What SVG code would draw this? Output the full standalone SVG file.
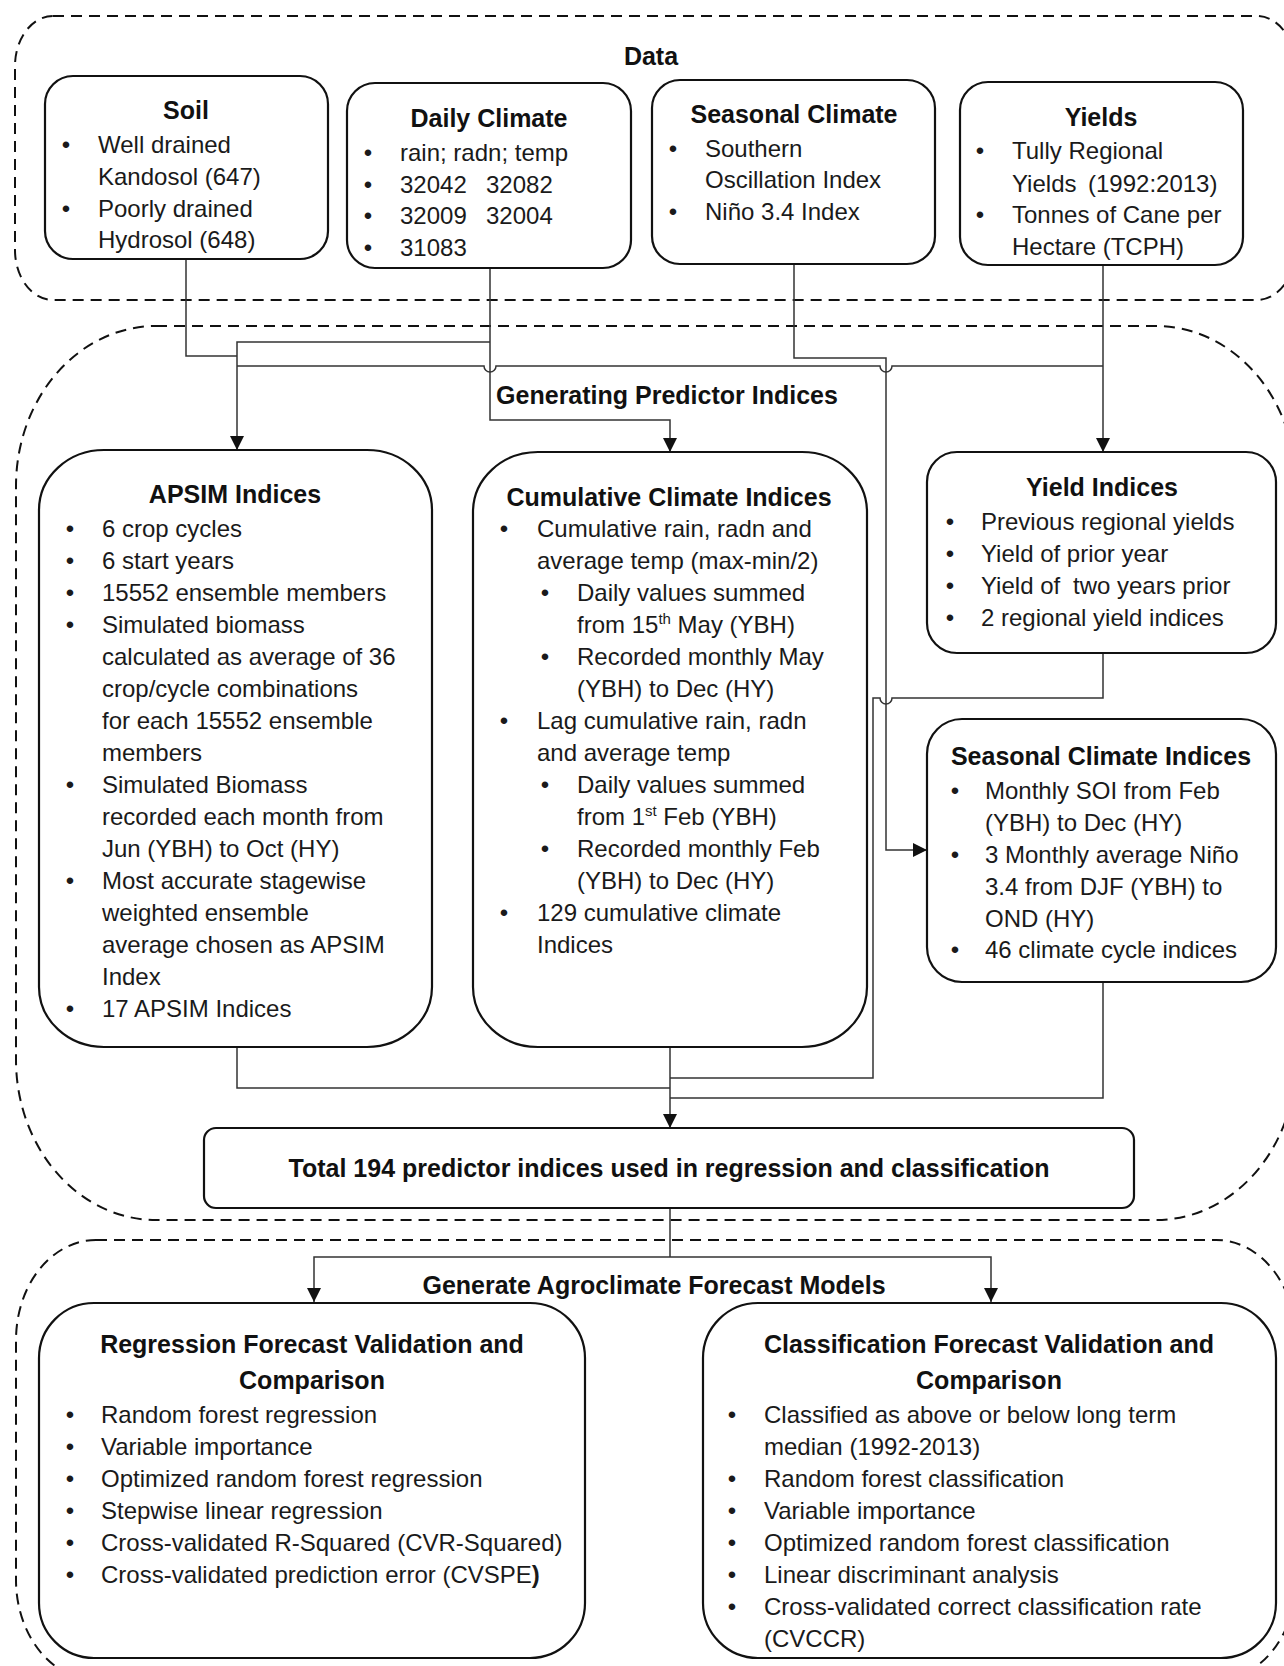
<svg xmlns="http://www.w3.org/2000/svg" width="1284" height="1666" viewBox="0 0 1284 1666">
<defs>
<style>
.cont{fill:none;stroke:#111;stroke-width:2;stroke-dasharray:11 7}
.box{fill:#fff;stroke:#111;stroke-width:2.2}
.t{font-family:"Liberation Sans",Arial,sans-serif;font-size:24px;fill:#1a1a1a}
.h{font-family:"Liberation Sans",Arial,sans-serif;font-size:25px;font-weight:bold;fill:#111;text-anchor:middle}
.b{font-family:"Liberation Sans",Arial,sans-serif;font-size:24px;fill:#1a1a1a;text-anchor:middle}
.c{fill:none;stroke:#333;stroke-width:1.5}
</style>
<marker id="arr" markerUnits="userSpaceOnUse" markerWidth="14" markerHeight="14" refX="14" refY="7" orient="auto">
<path d="M0,0 L14,7 L0,14 z" fill="#111"/>
</marker>
</defs>
<rect width="1284" height="1666" fill="#fff"/>

<g id="containers">
<rect class="cont" x="15" y="16" width="1280" height="284" rx="38" ry="50"/>
<rect class="cont" x="16" y="326" width="1280" height="894" rx="140" ry="160"/>
<rect class="cont" x="16" y="1240" width="1280" height="440" rx="80" ry="100"/>
<text class="h" x="651" y="65">Data</text>
<text class="h" x="667" y="404">Generating Predictor Indices</text>
<text class="h" x="654" y="1294">Generate Agroclimate Forecast Models</text>
</g>

<g id="connectors">
<path class="c" d="M186,259 V356 H237"/>
<path class="c" d="M490,342 H237 V450" marker-end="url(#arr)"/>
<path class="c" d="M490,268 V420 H670 V452" marker-end="url(#arr)"/>
<path class="c" d="M1103,265 V452" marker-end="url(#arr)"/>
<path class="c" d="M237,366 H484 A6,6 0 0 0 496,366 H880 A6,6 0 0 0 892,366 H1103"/>
<path class="c" d="M794,264 V358 H886 V850 H927" marker-end="url(#arr)"/>
<path class="c" d="M237,1047 V1088 H670"/>
<path class="c" d="M670,1047 V1128" marker-end="url(#arr)"/>
<path class="c" d="M1103,653 V698 H892 A6,6 0 0 1 880,698 H873 V1078 H670"/>
<path class="c" d="M1103,982 V1098 H670"/>
<path class="c" d="M670,1208 V1257"/>
<path class="c" d="M670,1257 H314 V1302" marker-end="url(#arr)"/>
<path class="c" d="M670,1257 H991 V1302" marker-end="url(#arr)"/>
</g>

<g id="soil">
<rect class="box" x="45" y="76" width="283" height="183" rx="28"/>
<text class="h" x="186" y="119">Soil</text>
<text class="b" x="66" y="153">•</text>
<text class="t" x="98" y="153">Well drained</text>
<text class="t" x="98" y="185">Kandosol (647)</text>
<text class="b" x="66" y="217">•</text>
<text class="t" x="98" y="217">Poorly drained</text>
<text class="t" x="98" y="248">Hydrosol (648)</text>
</g>

<g id="daily-climate">
<rect class="box" x="347" y="83" width="284" height="185" rx="28"/>
<text class="h" x="489" y="127">Daily Climate</text>
<text class="b" x="368" y="161">•</text>
<text class="t" x="400" y="161">rain; radn; temp</text>
<text class="b" x="368" y="193">•</text>
<text class="t" x="400" y="193">32042<tspan x="486">32082</tspan></text>
<text class="b" x="368" y="224">•</text>
<text class="t" x="400" y="224">32009<tspan x="486">32004</tspan></text>
<text class="b" x="368" y="256">•</text>
<text class="t" x="400" y="256">31083</text>
</g>

<g id="seasonal-climate">
<rect class="box" x="652" y="80" width="283" height="184" rx="28"/>
<text class="h" x="794" y="123">Seasonal Climate</text>
<text class="b" x="673" y="157">•</text>
<text class="t" x="705" y="157">Southern</text>
<text class="t" x="705" y="188">Oscillation Index</text>
<text class="b" x="673" y="220">•</text>
<text class="t" x="705" y="220">Niño 3.4 Index</text>
</g>

<g id="yields">
<rect class="box" x="960" y="82" width="283" height="183" rx="28"/>
<text class="h" x="1101" y="126">Yields</text>
<text class="b" x="980" y="159">•</text>
<text class="t" x="1012" y="159">Tully Regional</text>
<text class="t" x="1012" y="192">Yields<tspan x="1088">(1992:2013)</tspan></text>
<text class="b" x="980" y="223">•</text>
<text class="t" x="1012" y="223">Tonnes of Cane per</text>
<text class="t" x="1012" y="255">Hectare (TCPH)</text>
</g>

<g id="apsim-indices">
<rect class="box" x="39" y="450" width="393" height="597" rx="65" ry="60"/>
<text class="h" x="235" y="503">APSIM Indices</text>
<text class="b" x="70" y="537">•</text><text class="t" x="102" y="537">6 crop cycles</text>
<text class="b" x="70" y="569">•</text><text class="t" x="102" y="569">6 start years</text>
<text class="b" x="70" y="601">•</text><text class="t" x="102" y="601">15552 ensemble members</text>
<text class="b" x="70" y="633">•</text><text class="t" x="102" y="633">Simulated biomass</text>
<text class="t" x="102" y="665">calculated as average of 36</text>
<text class="t" x="102" y="697">crop/cycle combinations</text>
<text class="t" x="102" y="729">for each 15552 ensemble</text>
<text class="t" x="102" y="761">members</text>
<text class="b" x="70" y="793">•</text><text class="t" x="102" y="793">Simulated Biomass</text>
<text class="t" x="102" y="825">recorded each month from</text>
<text class="t" x="102" y="857">Jun (YBH) to Oct (HY)</text>
<text class="b" x="70" y="889">•</text><text class="t" x="102" y="889">Most accurate stagewise</text>
<text class="t" x="102" y="921">weighted ensemble</text>
<text class="t" x="102" y="953">average chosen as APSIM</text>
<text class="t" x="102" y="985">Index</text>
<text class="b" x="70" y="1017">•</text><text class="t" x="102" y="1017">17 APSIM Indices</text>
</g>

<g id="cumulative-climate-indices">
<rect class="box" x="473" y="452" width="394" height="595" rx="65" ry="60"/>
<text class="h" x="669" y="506">Cumulative Climate Indices</text>
<text class="b" x="504" y="537">•</text><text class="t" x="537" y="537">Cumulative rain, radn and</text>
<text class="t" x="537" y="569">average temp (max-min/2)</text>
<text class="b" x="545" y="601">•</text><text class="t" x="577" y="601">Daily values summed</text>
<text class="t" x="577" y="633">from 15<tspan dy="-9" font-size="15">th</tspan><tspan dy="9"> May (YBH)</tspan></text>
<text class="b" x="545" y="665">•</text><text class="t" x="577" y="665">Recorded monthly May</text>
<text class="t" x="577" y="697">(YBH) to Dec (HY)</text>
<text class="b" x="504" y="729">•</text><text class="t" x="537" y="729">Lag cumulative rain, radn</text>
<text class="t" x="537" y="761">and average temp</text>
<text class="b" x="545" y="793">•</text><text class="t" x="577" y="793">Daily values summed</text>
<text class="t" x="577" y="825">from 1<tspan dy="-9" font-size="15">st</tspan><tspan dy="9"> Feb (YBH)</tspan></text>
<text class="b" x="545" y="857">•</text><text class="t" x="577" y="857">Recorded monthly Feb</text>
<text class="t" x="577" y="889">(YBH) to Dec (HY)</text>
<text class="b" x="504" y="921">•</text><text class="t" x="537" y="921">129 cumulative climate</text>
<text class="t" x="537" y="953">Indices</text>
</g>

<g id="yield-indices">
<rect class="box" x="927" y="452" width="349" height="201" rx="30"/>
<text class="h" x="1102" y="496">Yield Indices</text>
<text class="b" x="950" y="530">•</text><text class="t" x="981" y="530">Previous regional yields</text>
<text class="b" x="950" y="562">•</text><text class="t" x="981" y="562">Yield of prior year</text>
<text class="b" x="950" y="594">•</text><text class="t" x="981" y="594">Yield of<tspan x="1073">two years prior</tspan></text>
<text class="b" x="950" y="626">•</text><text class="t" x="981" y="626">2 regional yield indices</text>
</g>

<g id="seasonal-climate-indices">
<rect class="box" x="927" y="719" width="349" height="263" rx="35"/>
<text class="h" x="1101" y="765">Seasonal Climate Indices</text>
<text class="b" x="955" y="799">•</text><text class="t" x="985" y="799">Monthly SOI from Feb</text>
<text class="t" x="985" y="831">(YBH) to Dec (HY)</text>
<text class="b" x="955" y="863">•</text><text class="t" x="985" y="863">3 Monthly average Niño</text>
<text class="t" x="985" y="895">3.4 from DJF (YBH) to</text>
<text class="t" x="985" y="927">OND (HY)</text>
<text class="b" x="955" y="958">•</text><text class="t" x="985" y="958">46 climate cycle indices</text>
</g>

<g id="total">
<rect class="box" x="204" y="1128" width="930" height="80" rx="12"/>
<text class="h" x="669" y="1177">Total 194 predictor indices used in regression and classification</text>
</g>

<g id="regression">
<rect class="box" x="39" y="1303" width="546" height="355" rx="55"/>
<text class="h" x="312" y="1353">Regression Forecast Validation and</text>
<text class="h" x="312" y="1389">Comparison</text>
<text class="b" x="70" y="1423">•</text><text class="t" x="101" y="1423">Random forest regression</text>
<text class="b" x="70" y="1455">•</text><text class="t" x="101" y="1455">Variable importance</text>
<text class="b" x="70" y="1487">•</text><text class="t" x="101" y="1487">Optimized random forest regression</text>
<text class="b" x="70" y="1519">•</text><text class="t" x="101" y="1519">Stepwise linear regression</text>
<text class="b" x="70" y="1551">•</text><text class="t" x="101" y="1551">Cross-validated R-Squared (CVR-Squared)</text>
<text class="b" x="70" y="1583">•</text><text class="t" x="101" y="1583">Cross-validated prediction error (CVSPE<tspan font-weight="bold">)</tspan></text>
</g>

<g id="classification">
<rect class="box" x="703" y="1303" width="573" height="355" rx="55"/>
<text class="h" x="989" y="1353">Classification Forecast Validation and</text>
<text class="h" x="989" y="1389">Comparison</text>
<text class="b" x="732" y="1423">•</text><text class="t" x="764" y="1423">Classified as above or below long term</text>
<text class="t" x="764" y="1455">median (1992-2013)</text>
<text class="b" x="732" y="1487">•</text><text class="t" x="764" y="1487">Random forest classification</text>
<text class="b" x="732" y="1519">•</text><text class="t" x="764" y="1519">Variable importance</text>
<text class="b" x="732" y="1551">•</text><text class="t" x="764" y="1551">Optimized random forest classification</text>
<text class="b" x="732" y="1583">•</text><text class="t" x="764" y="1583">Linear discriminant analysis</text>
<text class="b" x="732" y="1615">•</text><text class="t" x="764" y="1615">Cross-validated correct classification rate</text>
<text class="t" x="764" y="1647">(CVCCR)</text>
</g>
</svg>
